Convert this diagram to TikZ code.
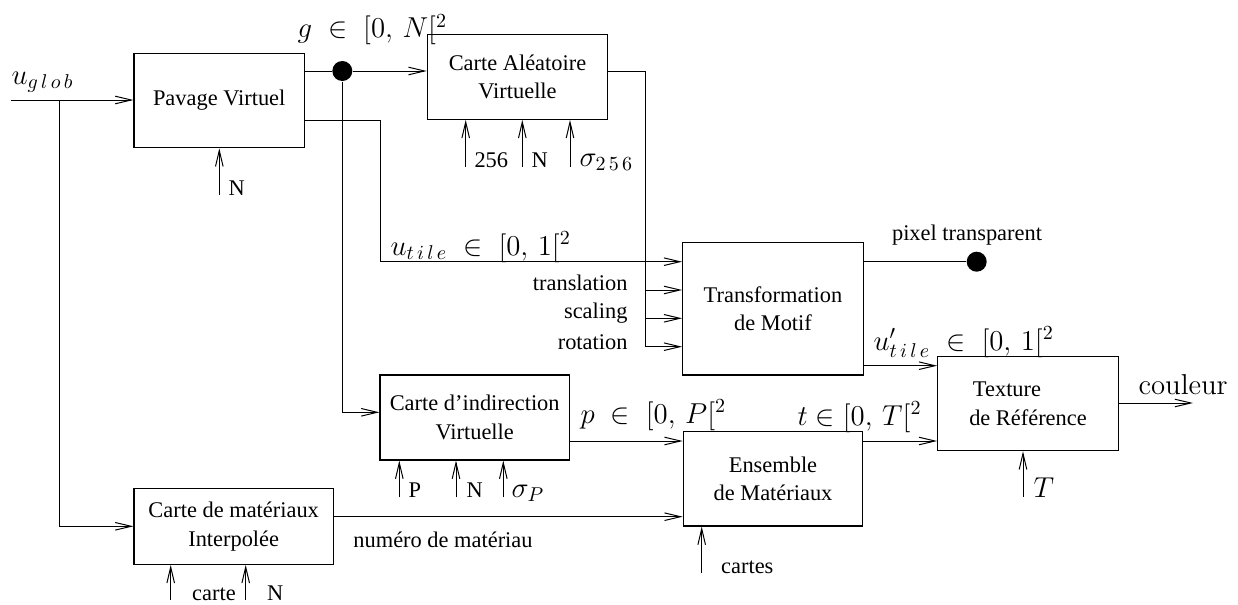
\documentclass[tikz,border=0pt]{standalone}
\usepackage[no-math]{fontspec}
\setmainfont{Liberation Serif}
\usetikzlibrary{arrows.meta}
\newcommand{\txt}{\fontsize{11.2}{14.3}\selectfont}
\newcommand{\mth}{\fontsize{14}{16}\selectfont}
\begin{document}
\begin{tikzpicture}[x=0.5pt,y=-0.5pt,line width=0.5pt,
  bloc/.style={draw,line width=0.6pt,inner sep=0pt,align=center,font=\txt},
  lab/.style={inner sep=0pt,font=\txt},
  mlab/.style={inner sep=0pt,font=\mth},
  fl/.style={-{Straight Barb[length=8pt,width=3.8pt]}},
  point/.style={circle,fill,inner sep=0pt,minimum size=10pt}]
  \useasboundingbox (0,0) rectangle (1238,605);
  \node[bloc,minimum width=85.2pt,minimum height=47.2pt] (pavage) at (219.2,100.5) {Pavage Virtuel};
  \node[bloc,minimum width=90.2pt,minimum height=42.5pt] (alea) at (517.5,76.8) {Carte Aléatoire\\Virtuelle};
  \node[bloc,minimum width=90.3pt,minimum height=66.2pt] (motif) at (773,308.8) {Transformation\\de Motif};
  \node[bloc,minimum width=94.7pt,minimum height=42.5pt] (indir) at (474.7,417.5) {Carte d'indirection\\Virtuelle};
  \node[bloc,minimum width=89.7pt,minimum height=47.2pt] (ens) at (773,478.8) {Ensemble\\de Matériaux};
  \node[bloc,minimum width=90.3pt,minimum height=47pt] (tex) at (1028,403.7) {Texture\rule{21pt}{0pt}\\de Référence};
  \node[bloc,minimum width=99.7pt,minimum height=38pt] (mat) at (233.7,526.3) {Carte de matériaux\\Interpolée};
  \node[point] (g) at (342.3,71) {};
  \node[point] (transp) at (976.7,261.7) {};
  \coordinate (uin) at (11,100);
  \coordinate (ubr) at (59,100);
  \coordinate (sortie) at (1193,403);

  \draw[fl] (uin) -- (uin -| pavage.west);
  \draw[fl] (ubr) |- (mat.west);
  \draw (pavage.east |- g) -- (g);
  \draw[fl] (g) -- (g -| alea.west);
  \draw[fl] (g) |- (indir.west |- 0,412.3);
  \draw[fl] (pavage.east |- 0,120.7) -| (380,261.7) -- (motif.west |- 0,261.7);
  \draw[fl] (alea.east |- 0,71.7) -| (645.5,346.7) -- (motif.west |- 0,346.7);
  \foreach \y in {290,318.3} \draw[fl] (645.5,\y) -- (motif.west |- 0,\y);
  \draw (motif.east |- transp) -- (transp);
  \draw[fl] (motif.east |- 0,365.7) -- (tex.west |- 0,365.7);
  \draw[fl] (indir.east |- 0,441) -- (ens.west |- 0,441);
  \draw[fl] (ens.east |- 0,441) -- (tex.west |- 0,441);
  \draw[fl] (mat.east |- 0,516.7) -- (ens.west |- 0,516.7);
  \draw[fl] (tex.east |- sortie) -- (sortie);

  \draw[fl] (219.3,195) -- (219.3,0 |- pavage.south);
  \foreach \x in {465.7,522.3,570} \draw[fl] (\x,166.7) -- (\x,0 |- alea.south);
  \foreach \x in {399.3,456,503.3} \draw[fl] (\x,497.3) -- (\x,0 |- indir.south);
  \foreach \x in {170.7,245.7} \draw[fl] (\x,600) -- (\x,0 |- mat.south);
  \draw[fl] (701.7,573) -- (701.7,0 |- ens.south);
  \draw[fl] (1023,496.7) -- (1023,0 |- tex.south);

  \node[mlab,anchor=base west] at (11,84) {$u_{g\,l\,o\,b}$};
  \node[mlab,anchor=base west] at (297,38) {$g\;\in\;[0,\,N[^2$};
  \node[mlab,anchor=base west] at (390,255) {$u_{t\,i\,l\,e}\;\in\;[0,\,1[^2$};
  \node[mlab,anchor=base west] at (873,350) {$u'_{t\,i\,l\,e}\;\in\;[0,\,1[^2$};
  \node[mlab,anchor=base west] at (580,423) {$p\;\in\;[0,\,P[^2$};
  \node[mlab,anchor=base west] at (797,425) {$t\in[0,\,T[^2$};
  \node[mlab,anchor=base west] at (1138,394) {$\mathrm{couleur}$};
  \node[mlab,anchor=base west] at (579,166) {$\sigma_{2\,5\,6}$};
  \node[mlab,anchor=base west] at (511,497) {$\sigma_P$};
  \node[mlab,anchor=base west] at (1033,497) {$T$};

  \node[lab,anchor=base west] at (228,195) {N};
  \node[lab,anchor=base west] at (474,167) {256};
  \node[lab,anchor=base west] at (531,167) {N};
  \node[lab,anchor=base west] at (408,497) {P};
  \node[lab,anchor=base west] at (466,497) {N};
  \node[lab,anchor=base west] at (191.7,600) {carte};
  \node[lab,anchor=base west] at (266.7,600) {N};
  \node[lab,anchor=base west] at (720.7,573) {cartes};
  \node[lab] at (443,540) {numéro de matériau};
  \node[lab] at (967,235) {pixel transparent};
  \node[lab,anchor=east] at (628,283) {translation};
  \node[lab,anchor=east] at (628,313) {scaling};
  \node[lab,anchor=east] at (628,342) {rotation};
\end{tikzpicture}
\end{document}
